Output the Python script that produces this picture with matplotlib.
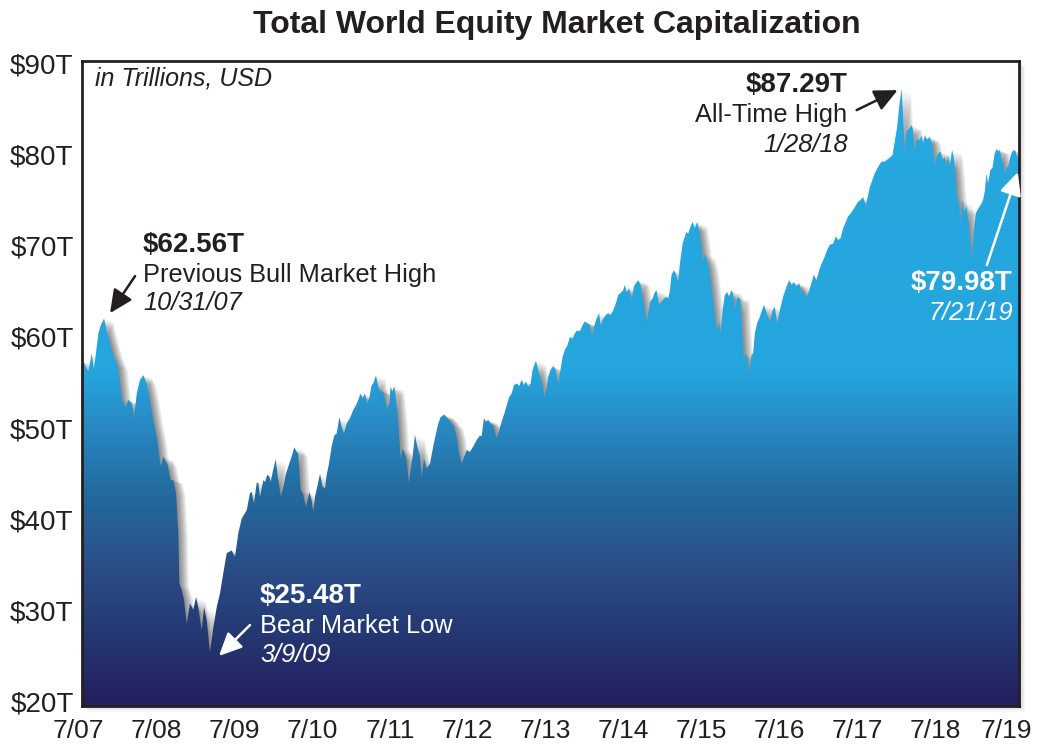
import numpy as np
import matplotlib
matplotlib.use("Agg")
import matplotlib.pyplot as plt
from matplotlib.colors import LinearSegmentedColormap
from matplotlib.patches import Rectangle
from matplotlib.transforms import offset_copy

plt.rcParams['font.family'] = ['Liberation Sans', 'DejaVu Sans']

# --- data: fractional year vs total market cap (trillions USD) ---
years = [
    2007.547, 2007.564, 2007.628, 2007.672, 2007.700, 2007.757, 2007.788, 2007.830, 2007.865, 2007.907,
    2007.950, 2007.984, 2008.013, 2008.057, 2008.100, 2008.142, 2008.186, 2008.215, 2008.250, 2008.292,
    2008.334, 2008.378, 2008.420, 2008.463, 2008.514, 2008.558, 2008.591, 2008.642, 2008.686, 2008.720,
    2008.754, 2008.784, 2008.797, 2008.827, 2008.857, 2008.892, 2008.934, 2008.976, 2009.011, 2009.040,
    2009.084, 2009.114, 2009.148, 2009.190, 2009.233, 2009.277, 2009.319, 2009.361, 2009.405, 2009.469,
    2009.511, 2009.554, 2009.598, 2009.640, 2009.662, 2009.704, 2009.726, 2009.755, 2009.790, 2009.811,
    2009.833, 2009.854, 2009.875, 2009.897, 2009.926, 2009.952, 2009.970, 2009.996, 2010.034, 2010.067,
    2010.102, 2010.132, 2010.166, 2010.196, 2010.239, 2010.273, 2010.303, 2010.324, 2010.355, 2010.381,
    2010.423, 2010.465, 2010.496, 2010.517, 2010.539, 2010.568, 2010.603, 2010.637, 2010.667, 2010.689,
    2010.718, 2010.753, 2010.786, 2010.817, 2010.851, 2010.881, 2010.911, 2010.945, 2010.988, 2011.030,
    2011.065, 2011.094, 2011.125, 2011.151, 2011.180, 2011.210, 2011.236, 2011.266, 2011.287, 2011.322,
    2011.351, 2011.382, 2011.415, 2011.437, 2011.467, 2011.492, 2011.510, 2011.531, 2011.557, 2011.578,
    2011.608, 2011.639, 2011.664, 2011.694, 2011.716, 2011.745, 2011.771, 2011.793, 2011.822, 2011.852,
    2011.886, 2011.908, 2011.938, 2011.972, 2012.015, 2012.057, 2012.092, 2012.121, 2012.152, 2012.195,
    2012.229, 2012.263, 2012.293, 2012.323, 2012.358, 2012.391, 2012.422, 2012.455, 2012.486, 2012.528,
    2012.571, 2012.614, 2012.657, 2012.678, 2012.708, 2012.734, 2012.763, 2012.794, 2012.827, 2012.871,
    2012.905, 2012.935, 2012.978, 2013.007, 2013.033, 2013.064, 2013.093, 2013.128, 2013.161, 2013.192,
    2013.222, 2013.247, 2013.277, 2013.308, 2013.333, 2013.376, 2013.405, 2013.436, 2013.462, 2013.482,
    2013.513, 2013.533, 2013.564, 2013.598, 2013.632, 2013.662, 2013.684, 2013.718, 2013.748, 2013.782,
    2013.812, 2013.847, 2013.876, 2013.906, 2013.940, 2013.975, 2014.005, 2014.034, 2014.069, 2014.094,
    2014.120, 2014.155, 2014.188, 2014.206, 2014.240, 2014.274, 2014.304, 2014.335, 2014.368, 2014.403,
    2014.432, 2014.463, 2014.496, 2014.518, 2014.540, 2014.573, 2014.604, 2014.633, 2014.668, 2014.689,
    2014.720, 2014.753, 2014.797, 2014.817, 2014.839, 2014.874, 2014.903, 2014.925, 2014.958, 2014.989,
    2015.019, 2015.053, 2015.074, 2015.096, 2015.117, 2015.147, 2015.173, 2015.202, 2015.224, 2015.259,
    2015.288, 2015.310, 2015.331, 2015.353, 2015.387, 2015.417, 2015.446, 2015.472, 2015.503, 2015.523,
    2015.545, 2015.575, 2015.600, 2015.631, 2015.660, 2015.686, 2015.703, 2015.728, 2015.746, 2015.772,
    2015.802, 2015.831, 2015.857, 2015.883, 2015.908, 2015.934, 2015.952, 2015.972, 2016.003, 2016.029,
    2016.046, 2016.071, 2016.093, 2016.114, 2016.144, 2016.165, 2016.187, 2016.216, 2016.251, 2016.286,
    2016.306, 2016.328, 2016.358, 2016.379, 2016.414, 2016.443, 2016.473, 2016.508, 2016.550, 2016.594,
    2016.627, 2016.658, 2016.688, 2016.722, 2016.756, 2016.786, 2016.816, 2016.850, 2016.884, 2016.914,
    2016.944, 2016.978, 2017.012, 2017.043, 2017.085, 2017.115, 2017.150, 2017.192, 2017.226, 2017.256,
    2017.287, 2017.321, 2017.356, 2017.385, 2017.416, 2017.449, 2017.483, 2017.513, 2017.544, 2017.577,
    2017.612, 2017.633, 2017.663, 2017.697, 2017.726, 2017.769, 2017.813, 2017.855, 2017.898, 2017.929,
    2017.954, 2017.984, 2018.014, 2018.040, 2018.070, 2018.090, 2018.112, 2018.134, 2018.167, 2018.198,
    2018.218, 2018.240, 2018.262, 2018.305, 2018.327, 2018.347, 2018.369, 2018.398, 2018.433, 2018.467,
    2018.498, 2018.519, 2018.540, 2018.571, 2018.596, 2018.626, 2018.647, 2018.668, 2018.690, 2018.719,
    2018.741, 2018.767, 2018.784, 2018.809, 2018.827, 2018.853, 2018.873, 2018.904, 2018.938, 2018.956,
    2018.976, 2018.998, 2019.024, 2019.045, 2019.075, 2019.097, 2019.117, 2019.139, 2019.161, 2019.182,
    2019.212, 2019.238, 2019.267, 2019.289, 2019.310, 2019.332, 2019.353, 2019.374, 2019.396, 2019.417,
    2019.438, 2019.459, 2019.481, 2019.511, 2019.537, 2019.559, 2019.585,
]
cap = [
    57.3, 57.3, 56.2, 58.2, 56.4, 60.4, 61.3, 62.0, 60.7, 59.3,
    58.0, 57.3, 56.7, 53.4, 52.3, 53.1, 52.7, 51.2, 53.8, 55.3,
    55.8, 54.9, 53.1, 50.9, 48.7, 45.8, 46.9, 46.1, 44.3, 44.3,
    42.9, 38.5, 33.0, 32.3, 31.2, 28.6, 30.8, 30.1, 31.5, 30.4,
    27.9, 30.4, 29.0, 25.5, 28.2, 30.4, 31.9, 34.1, 36.3, 36.6,
    35.9, 38.5, 40.1, 40.7, 41.0, 42.9, 43.0, 41.8, 44.0, 44.0,
    42.5, 43.4, 44.3, 44.1, 44.9, 44.7, 44.1, 45.2, 46.6, 44.3,
    42.5, 43.6, 45.0, 45.8, 46.9, 47.9, 47.4, 47.2, 43.2, 42.9,
    41.4, 43.0, 42.1, 40.8, 42.5, 43.6, 45.0, 43.6, 43.4, 44.9,
    46.1, 48.0, 49.2, 49.4, 51.2, 50.2, 49.4, 50.5, 51.1, 52.0,
    52.5, 53.1, 53.8, 53.3, 53.8, 52.7, 53.3, 54.7, 54.9, 55.8,
    54.5, 54.0, 54.0, 53.1, 52.1, 52.7, 54.6, 54.0, 54.6, 53.4,
    50.7, 46.7, 47.8, 47.2, 46.5, 44.0, 45.8, 46.9, 49.3, 48.0,
    47.0, 44.7, 46.7, 45.6, 46.1, 48.0, 49.4, 50.5, 51.2, 51.5,
    51.2, 50.9, 50.5, 50.2, 49.1, 47.2, 46.1, 46.9, 47.6, 47.4,
    48.0, 48.7, 49.2, 49.1, 51.1, 50.7, 50.9, 50.5, 50.3, 48.9,
    49.8, 50.7, 51.8, 52.7, 53.4, 53.8, 54.7, 54.9, 54.6, 55.3,
    54.7, 55.1, 54.5, 54.9, 56.4, 57.4, 56.4, 55.5, 54.7, 53.4,
    54.4, 55.6, 56.4, 56.8, 56.4, 54.7, 56.0, 57.8, 58.6, 59.1,
    60.0, 59.8, 60.4, 60.7, 60.6, 61.3, 61.7, 61.5, 61.3, 60.0,
    61.1, 62.0, 62.6, 61.3, 62.0, 62.4, 62.6, 62.4, 62.9, 63.7,
    64.6, 64.8, 65.1, 65.7, 64.9, 65.3, 64.0, 65.5, 66.0, 66.2,
    65.7, 64.0, 61.5, 62.6, 63.8, 64.2, 64.9, 65.1, 63.5, 63.8,
    64.2, 64.4, 64.2, 65.1, 66.8, 67.3, 66.9, 66.0, 68.0, 70.2,
    71.0, 71.5, 71.3, 71.9, 72.6, 71.9, 72.6, 71.7, 69.9, 68.2,
    69.1, 68.4, 67.5, 65.5, 63.3, 61.5, 60.7, 61.7, 60.4, 62.9,
    64.6, 64.9, 64.4, 65.1, 64.8, 62.9, 64.0, 64.4, 64.0, 60.0,
    57.5, 58.2, 57.6, 56.0, 58.0, 58.2, 60.4, 61.5, 62.2, 63.1,
    63.5, 62.9, 62.2, 61.5, 62.9, 63.3, 61.5, 62.9, 64.4, 65.5,
    66.2, 65.7, 66.0, 65.5, 65.9, 64.9, 65.1, 64.2, 65.1, 65.9,
    66.8, 66.2, 67.3, 68.0, 68.8, 69.5, 70.1, 70.2, 71.0, 70.6,
    70.8, 71.9, 72.6, 73.2, 73.5, 73.9, 74.4, 74.8, 75.0, 75.3,
    74.4, 75.2, 76.4, 77.2, 77.9, 78.6, 79.2, 79.2, 79.5, 79.7,
    79.9, 81.4, 83.0, 85.2, 87.2, 84.5, 80.1, 82.5, 82.8, 83.2,
    82.7, 80.3, 81.6, 81.6, 82.1, 81.2, 82.1, 81.6, 81.9, 81.0,
    78.8, 79.7, 80.1, 80.3, 79.4, 79.7, 78.6, 79.9, 78.6, 80.5,
    79.7, 77.5, 75.3, 74.6, 72.6, 75.0, 73.7, 74.3, 72.1, 70.6,
    68.6, 71.7, 73.5, 73.9, 74.3, 74.6, 75.0, 75.9, 77.9, 76.8,
    78.3, 78.5, 80.1, 80.6, 80.3, 80.5, 79.7, 79.0, 77.9, 78.6,
    78.6, 79.4, 80.1, 80.5, 80.3, 79.7, 79.4,
]

ytick_vals = [20, 30, 40, 50, 60, 70, 80, 90]
ytick_labels = ['$%dT' % v for v in ytick_vals]
xtick_labels = ['7/07', '7/08', '7/09', '7/10', '7/11', '7/12', '7/13',
                '7/14', '7/15', '7/16', '7/17', '7/18', '7/19']
xtick_pos = [2007.5 + i for i in range(len(xtick_labels))]
xtick_pos[-1] = 2019.42   # last label nudged left to stay on the canvas

DARK = '#231f20'
XMIN, XMAX = 2007.547, 2019.585
YMIN, YMAX = 19.56, 90.22

fig = plt.figure(figsize=(10.37, 7.44), dpi=100)
ax = fig.add_axes([0.0791, 0.0511, 0.9040, 0.8669])
ax.set_xlim(XMIN, XMAX)
ax.set_ylim(YMIN, YMAX)

# soft drop shadow behind the frame
bbox = ax.get_position()
for k in range(1, 6):
    dx, dy = k * 0.0011, k * 0.0015
    fig.patches.append(Rectangle((bbox.x0 + dx, bbox.y0 - dy), bbox.width, bbox.height,
                                 transform=fig.transFigure, facecolor='black',
                                 alpha=0.035, lw=0, zorder=-5))

# blurred shadow of the area, offset to the right
for k in range(1, 13):
    tr = offset_copy(ax.transData, fig=fig, x=k * 0.55, y=-k * 0.2, units='points')
    ax.fill_between(years, cap, YMIN, color='black', alpha=0.045, lw=0,
                    transform=tr, zorder=1)

# gradient fill clipped to the area
stops = [(20, '#251e5e'), (28, '#243a74'), (34, '#2b4b86'), (43, '#236b9f'),
         (50, '#2888c2'), (56, '#25a5dd'), (90, '#26a9e0')]
cmap = LinearSegmentedColormap.from_list(
    'wec', [((v - YMIN) / (YMAX - YMIN), c) for v, c in
            [(YMIN, stops[0][1])] + stops[1:-1] + [(YMAX, stops[-1][1])]])
grad = np.linspace(0, 1, 512).reshape(-1, 1)
im = ax.imshow(grad, extent=[XMIN, XMAX, YMIN, YMAX], origin='lower',
               cmap=cmap, aspect='auto', zorder=2, interpolation='bilinear')
area = ax.fill_between(years, cap, YMIN, color='none', lw=0, zorder=2)
im.set_clip_path(area.get_paths()[0], transform=ax.transData)

# frame and ticks
for s in ax.spines.values():
    s.set_linewidth(2)
    s.set_color(DARK)
    s.set_zorder(5)
ax.set_yticks(ytick_vals)
ax.set_yticklabels(ytick_labels, fontsize=20, color=DARK)
ax.tick_params(axis='y', length=0, pad=6)
ax.set_xticks([])
for xp, lab in zip(xtick_pos, xtick_labels):
    ax.text(xp, -0.0385, lab, transform=ax.get_xaxis_transform(), ha='center',
            va='center', fontsize=19, color=DARK, clip_on=False)

fig.text(0.537, 0.966, 'Total World Equity Market Capitalization', ha='center',
         va='center', fontsize=23, fontweight='bold', color=DARK)

ax.text(2007.716, 88.3, 'in Trillions, USD', fontsize=18, style='italic',
        color=DARK, va='center', ha='left', zorder=6)

# --- annotations ---
def note(x, ys, lines, ha, color):
    weights = ['bold', 'normal', 'normal']
    styles = ['normal', 'normal', 'italic']
    sizes = [20, 18.3, 18.3]
    for i, (y, t) in enumerate(zip(ys, lines)):
        j = i if len(lines) == 3 else [0, 2][i]
        ax.text(x, y, t, ha=ha, va='center', color=color, fontsize=sizes[j],
                fontweight=weights[j], style=styles[j], zorder=6)

def arrow(tail, head, color):
    ax.annotate('', xy=head, xytext=tail, zorder=6,
                arrowprops=dict(arrowstyle='-|>,head_length=0.7,head_width=0.33',
                                mutation_scale=20, color=color, lw=1.8,
                                shrinkA=0, shrinkB=0))

note(2008.331, [70.05, 66.77, 63.7], ['$62.56T', 'Previous Bull Market High', '10/31/07'], 'left', DARK)
arrow((2008.228, 66.66), (2007.907, 62.6), DARK)

note(2017.378, [87.58, 84.29, 81.0], ['$87.29T', 'All-Time High', '1/28/18'], 'right', DARK)
arrow((2017.494, 84.84), (2018.02, 87.03), DARK)

note(2009.833, [31.61, 28.32, 25.15], ['$25.48T', 'Bear Market Low', '3/9/09'], 'left', 'white')
arrow((2009.704, 28.43), (2009.306, 25.04), 'white')

note(2019.5, [65.89, 62.6], ['$79.98T', '7/21/19'], 'right', 'white')
arrow((2019.166, 67.86), (2019.564, 78.05), 'white')

fig.savefig('out.png', dpi=100)
